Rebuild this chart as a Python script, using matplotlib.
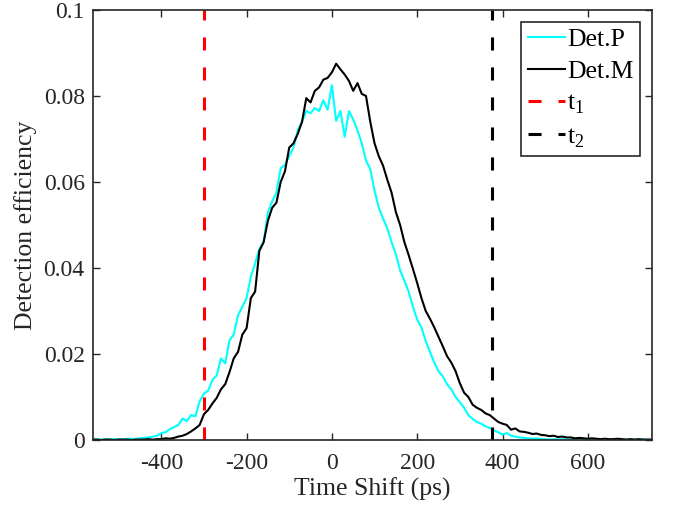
import numpy as np
import matplotlib
matplotlib.use("Agg")
import matplotlib.pyplot as plt

# time axis (ps), 10 ps bins
time_shift = np.arange(-560, 751, 10)

det_p = [
  0.0002, 0.0001, 0.0001, 0.0002, 0.0001, 0.0002, 0.0002, 0.0001, 0.0003, 0.0003,
  0.0002, 0.0004, 0.0005, 0.0006, 0.0008, 0.0010, 0.0016, 0.0018, 0.0025, 0.0030,
  0.0035, 0.0050, 0.0044, 0.0058, 0.0055, 0.0090, 0.0108, 0.0115, 0.0140, 0.0150,
  0.0190, 0.0178, 0.0232, 0.0245, 0.0290, 0.0310, 0.0330, 0.0380, 0.0410, 0.0445,
  0.0460, 0.0530, 0.0555, 0.0575, 0.0632, 0.0640, 0.0660, 0.0680, 0.0720, 0.0740,
  0.0765, 0.0760, 0.0772, 0.0765, 0.0790, 0.0768, 0.0825, 0.0742, 0.0765, 0.0705,
  0.0765, 0.0745, 0.0720, 0.0690, 0.0650, 0.0630, 0.0580, 0.0540, 0.0515, 0.0492,
  0.0460, 0.0432, 0.0395, 0.0370, 0.0345, 0.0310, 0.0280, 0.0262, 0.0230, 0.0205,
  0.0180, 0.0160, 0.0148, 0.0130, 0.0118, 0.0100, 0.0088, 0.0075, 0.0058, 0.0049,
  0.0042, 0.0038, 0.0032, 0.0028, 0.0022, 0.0018, 0.0013, 0.0016, 0.0010, 0.0008,
  0.0006, 0.0005, 0.0004, 0.0003, 0.0004, 0.0002, 0.0002, 0.0001, 0.0002, 0.0001,
  0.0002, 0.0001, 0.0001, 0.0002, 0.0001, 0.0001, 0.0001, 0.0002, 0.0001, 0.0001,
  0.0001, 0.0001, 0.0002, 0.0001, 0.0001, 0.0001, 0.0001, 0.0001, 0.0001, 0.0001,
  0.0001, 0.0001,
]

det_m = [
  0.0001, 0.0001, 0.0000, 0.0001, 0.0001, 0.0000, 0.0001, 0.0001, 0.0001, 0.0000,
  0.0001, 0.0001, 0.0001, 0.0002, 0.0001, 0.0002, 0.0002, 0.0004, 0.0003, 0.0005,
  0.0008, 0.0010, 0.0014, 0.0020, 0.0027, 0.0035, 0.0060, 0.0070, 0.0085, 0.0098,
  0.0118, 0.0130, 0.0158, 0.0190, 0.0205, 0.0245, 0.0260, 0.0330, 0.0345, 0.0440,
  0.0460, 0.0510, 0.0540, 0.0552, 0.0600, 0.0625, 0.0680, 0.0690, 0.0712, 0.0740,
  0.0795, 0.0785, 0.0812, 0.0820, 0.0838, 0.0842, 0.0855, 0.0875, 0.0862, 0.0850,
  0.0835, 0.0812, 0.0830, 0.0805, 0.0800, 0.0740, 0.0690, 0.0660, 0.0638, 0.0605,
  0.0575, 0.0530, 0.0500, 0.0460, 0.0430, 0.0398, 0.0365, 0.0330, 0.0300, 0.0282,
  0.0262, 0.0240, 0.0218, 0.0195, 0.0180, 0.0160, 0.0132, 0.0110, 0.0100, 0.0082,
  0.0075, 0.0070, 0.0062, 0.0058, 0.0050, 0.0042, 0.0038, 0.0035, 0.0024, 0.0027,
  0.0020, 0.0019, 0.0017, 0.0014, 0.0015, 0.0012, 0.0011, 0.0009, 0.0010, 0.0007,
  0.0008, 0.0006, 0.0006, 0.0004, 0.0005, 0.0004, 0.0003, 0.0004, 0.0003, 0.0002,
  0.0003, 0.0002, 0.0002, 0.0003, 0.0002, 0.0001, 0.0002, 0.0001, 0.0002, 0.0001,
  0.0001, 0.0001,
]

t1 = -300
t2 = 375

x_ticks = [-400, -200, 0, 200, 400, 600]
y_ticks = [0, 0.02, 0.04, 0.06, 0.08, 0.1]
y_tick_labels = ["0", "0.02", "0.04", "0.06", "0.08", "0.1"]

plt.rcParams['font.family'] = ['Liberation Serif', 'DejaVu Serif']
plt.rcParams['mathtext.fontset'] = 'custom'
plt.rcParams['mathtext.rm'] = 'Liberation Serif'
plt.rcParams['axes.unicode_minus'] = False
plt.rcParams['lines.scale_dashes'] = False

axis_color = '#262626'

fig = plt.figure(figsize=(6.89, 5.15), dpi=100)
ax = fig.add_axes([0.135, 0.1456, 0.811, 0.835])

ax.plot(time_shift, det_p, color='#00ffff', lw=1.5, label='Det.P')
ax.plot(time_shift, det_m, color='black', lw=1.5, label='Det.M')
ax.axvline(t1, color='#ff0000', lw=2.2, dashes=(9.4, 12.2), label='t$_{\\mathregular{1}}$')
ax.axvline(t2, color='black', lw=2.2, dashes=(9.4, 12.2), label='t$_{\\mathregular{2}}$')

ax.set_xlim(-560, 750)
ax.set_ylim(0, 0.1)
ax.set_xticks(x_ticks)
ax.set_yticks(y_ticks)
ax.set_yticklabels(y_tick_labels)

ax.tick_params(direction='in', top=True, right=True, length=5, width=1,
               labelsize=17, colors=axis_color, labelcolor=axis_color)
ax.tick_params(axis='x', pad=9)
ax.tick_params(axis='y', pad=6)
for s in ax.spines.values():
  s.set_color(axis_color)
  s.set_linewidth(1.2)

ax.set_xlabel('Time Shift (ps)', fontsize=18.5, color=axis_color, labelpad=3)
ax.set_ylabel('Detection efficiency', fontsize=18.5, color=axis_color, labelpad=5)

leg = ax.legend(loc='upper right', fontsize=18.5, frameon=True, fancybox=False,
                edgecolor=axis_color, framealpha=1, handlelength=1.45,
                handletextpad=0.1, borderpad=0.25, labelspacing=0.35,
                borderaxespad=0.45)
leg.get_frame().set_linewidth(1.2)

fig.savefig('out.png', dpi=100)
